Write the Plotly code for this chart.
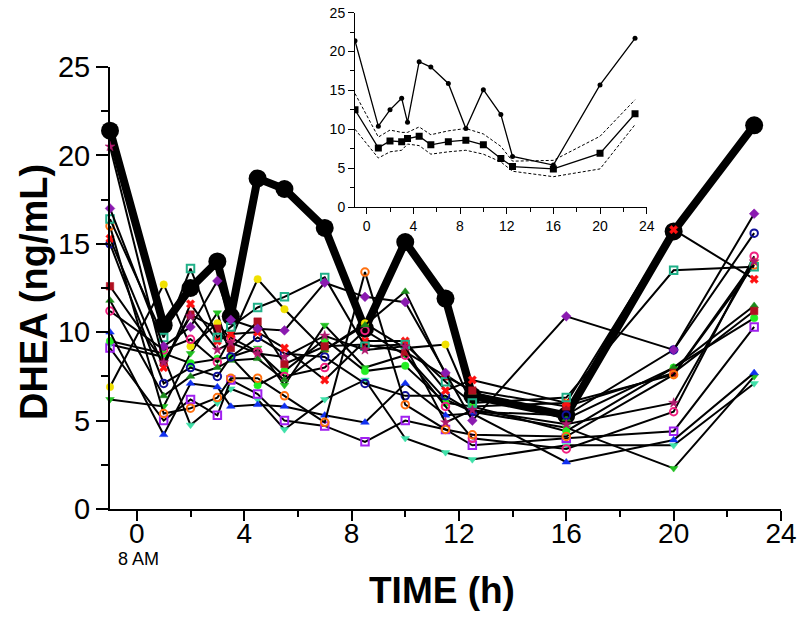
import plotly.graph_objects as go

time_h = [-1, 1, 2, 3, 3.5, 4.5, 5.5, 7, 8.5, 10, 11.5, 12.5, 16, 20, 23]

highlight = [21.4, 10.4, 12.5, 14.0, 10.9, 18.7, 18.1, 15.9, 10.2, 15.1, 11.9, 6.4, 5.3, 15.7, 21.7]

s_magenta = [20.5, 8.3, 10.9, 9.0, 9.4, 8.8, 8.6, 9.8, 9.0, 9.2, 4.9, 5.6, 4.8, 6.0, 14.0]
s_purple = [17.0, 9.2, 10.3, 12.9, 10.7, 10.2, 10.1, 12.8, 12.0, 11.7, 7.7, 5.0, 10.9, 9.0, 16.7]
s_teal = [16.4, 9.7, 13.6, 9.7, 10.3, 11.4, 12.0, 13.1, 9.2, 9.3, 7.2, 6.0, 6.3, 13.5, 13.7]
s_orange = [16.0, 5.4, 5.7, 6.3, 7.4, 7.4, 6.4, 4.9, 13.4, 5.9, 4.5, 4.2, 4.1, 7.6, 13.8]
s_red = [15.3, 8.0, 11.6, 9.5, 9.9, 10.0, 9.1, 7.3, 9.5, 9.5, 6.7, 7.3, 6.0, 15.8, 13.0]
s_navy = [15.0, 7.1, 8.0, 7.5, 8.6, 9.7, 8.8, 8.6, 7.1, 6.4, 6.4, 5.5, 5.3, 9.0, 15.6]
s_darkred = [12.6, 8.3, 11.0, 10.2, 9.1, 10.6, 8.2, 9.2, 9.3, 8.9, 7.5, 6.7, 5.8, 7.7, 11.2]
s_darkgreen = [11.8, 6.4, 7.5, 8.0, 8.4, 8.5, 7.3, 9.0, 10.4, 12.3, 7.6, 6.6, 5.1, 8.0, 11.5]
s_pink = [11.2, 9.0, 9.6, 8.3, 9.7, 8.9, 7.5, 8.0, 10.1, 8.7, 5.8, 4.0, 3.4, 5.5, 14.3]
s_blue = [10.0, 4.2, 7.1, 6.9, 5.8, 5.9, 5.8, 5.3, 4.9, 7.1, 5.3, 5.4, 2.65, 3.9, 7.7]
s_lime = [9.5, 8.8, 8.25, 8.5, 8.6, 7.0, 7.8, 9.6, 7.8, 8.1, 6.0, 5.8, 4.4, 8.0, 10.8]
s_violet = [9.1, 5.0, 6.2, 5.3, 7.3, 6.5, 5.0, 4.7, 3.8, 5.0, 4.5, 3.6, 4.0, 4.4, 10.3]
s_yellow = [6.9, 12.7, 9.2, 10.5, 9.6, 13.0, 11.3, 9.0, 10.5, 9.1, 9.3, 5.8, 6.0, 7.6, 14.0]
s_green = [6.2, 5.8, 8.8, 11.1, 8.6, 9.1, 7.0, 10.4, 8.0, 8.7, 6.2, 5.5, 4.6, 2.3, 7.5]
s_turquoise = [9.3, 8.6, 4.75, 6.0, 6.8, 6.2, 4.5, 6.2, 7.3, 4.0, 3.2, 2.8, 3.6, 3.6, 7.1]

inset_individual = [21.4, 10.4, 12.5, 14.0, 10.9, 18.7, 18.0, 15.9, 10.1, 15.1, 11.9, 6.5, 5.4, 15.7, 21.7]
inset_mean = [12.5, 7.6, 8.5, 8.4, 8.8, 9.1, 8.0, 8.4, 8.6, 8.0, 6.25, 5.2, 4.9, 6.9, 12.0]
inset_upper = [14.6, 9.0, 9.9, 9.6, 9.6, 10.3, 9.3, 9.8, 10.1, 9.4, 7.8, 5.9, 6.0, 9.1, 13.8]
inset_lower = [10.0, 6.3, 7.1, 7.3, 8.1, 7.9, 6.8, 7.1, 7.3, 6.8, 5.8, 4.6, 3.9, 4.9, 10.6]

x_ticks = [0, 4, 8, 12, 16, 20, 24]
y_ticks = [0, 5, 10, 15, 20, 25]

subjects = [
    (s_turquoise, "#3ee0a8", "triangle-down", True),
    (s_green, "#22c022", "triangle-down", True),
    (s_yellow, "#f0e000", "circle", True),
    (s_violet, "#a020f0", "square-open", False),
    (s_lime, "#22ee22", "circle", True),
    (s_blue, "#1030f0", "triangle-up", True),
    (s_pink, "#f02080", "circle-open", False),
    (s_darkgreen, "#1a8a1a", "triangle-up", True),
    (s_darkred, "#b01020", "square", True),
    (s_navy, "#10109a", "circle-open", False),
    (s_red, "#ff1010", "x", True),
    (s_orange, "#ff7010", "circle-open", False),
    (s_teal, "#20b088", "square-open", False),
    (s_purple, "#8a1ab0", "diamond", True),
    (s_magenta, "#b0186e", "star", True),
]

FONT = "Liberation Sans, Arial, sans-serif"

fig = go.Figure()

fig.add_trace(go.Scatter(
    x=time_h, y=highlight, mode="lines+markers",
    line=dict(color="black", width=8),
    marker=dict(color="black", size=18),
    xaxis="x", yaxis="y", showlegend=False, cliponaxis=False))

for vals, col, sym, filled in subjects:
    fig.add_trace(go.Scatter(
        x=time_h, y=vals, mode="lines+markers",
        line=dict(color="black", width=2),
        marker=dict(symbol=sym, size=7.5, color=col,
                    line=dict(color=col, width=2 if not filled else 0.5)),
        xaxis="x", yaxis="y", showlegend=False, cliponaxis=False))

# inset
fig.add_trace(go.Scatter(x=time_h, y=inset_upper, mode="lines",
                         line=dict(color="black", width=1, dash="3px,2px"),
                         xaxis="x2", yaxis="y2", showlegend=False))
fig.add_trace(go.Scatter(x=time_h, y=inset_lower, mode="lines",
                         line=dict(color="black", width=1, dash="3px,2px"),
                         xaxis="x2", yaxis="y2", showlegend=False))
fig.add_trace(go.Scatter(x=time_h, y=inset_mean, mode="lines+markers",
                         line=dict(color="black", width=1.3),
                         marker=dict(symbol="square", size=7, color="black"),
                         xaxis="x2", yaxis="y2", showlegend=False))
fig.add_trace(go.Scatter(x=time_h, y=inset_individual, mode="lines+markers",
                         line=dict(color="black", width=1.3),
                         marker=dict(symbol="circle", size=5, color="black"),
                         xaxis="x2", yaxis="y2", showlegend=False))

W, H = 800, 622
L, R = 110, 800 - 781
T, B = 4, 622 - 509
pw, ph = W - L - R, H - T - B

def py(px):
    return (H - B - px) / ph

def pxx(px):
    return (px - L) / pw

fig.update_layout(
    width=W, height=H,
    margin=dict(l=L, r=R, t=T, b=B, autoexpand=False),
    paper_bgcolor="white", plot_bgcolor="white",
    hovermode=False,
    xaxis=dict(domain=[0, 1], range=[-1, 24], tickvals=x_ticks, automargin=False,
               showgrid=False, zeroline=False, showline=True, linecolor="black", linewidth=2,
               ticks="outside", ticklen=10, tickwidth=2, tickcolor="black",
               ticklabelstandoff=-12,
               tickfont=dict(family=FONT, size=28, color="black"),
               minor=dict(dtick=2, tick0=0, ticks="outside", ticklen=6, tickwidth=2, tickcolor="black"),
               anchor="y"),
    yaxis=dict(domain=[0, py(67)], range=[0, 25], tickvals=y_ticks, automargin=False,
               showgrid=False, zeroline=False, showline=True, linecolor="black", linewidth=2,
               ticks="outside", ticklen=12, tickwidth=2, tickcolor="black",
               tickfont=dict(family=FONT, size=29, color="black"),
               minor=dict(dtick=2.5, tick0=0, ticks="outside", ticklen=7, tickwidth=2, tickcolor="black"),
               anchor="x"),
    xaxis2=dict(domain=[pxx(355), pxx(646.7)], range=[-1, 24], tickvals=x_ticks, automargin=False,
                showgrid=False, zeroline=False, showline=True, linecolor="black", linewidth=1,
                ticks="outside", ticklen=6, tickwidth=1, tickcolor="black",
                tickfont=dict(family=FONT, size=14, color="black"),
                minor=dict(dtick=2, tick0=0, ticks="outside", ticklen=4, tickwidth=1, tickcolor="black"),
                anchor="y2"),
    yaxis2=dict(domain=[py(207), py(12.7)], range=[0, 25], tickvals=y_ticks, automargin=False,
                showgrid=False, zeroline=False, showline=True, linecolor="black", linewidth=1,
                ticks="outside", ticklen=6, tickwidth=1, tickcolor="black",
                ticklabeloverflow="allow",
                tickfont=dict(family=FONT, size=14, color="black"),
                minor=dict(dtick=2.5, tick0=0, ticks="outside", ticklen=4, tickwidth=1, tickcolor="black"),
                anchor="x2"),
    annotations=[
        dict(text="<b>DHEA (ng/mL)</b>", textangle=-90, xref="paper", yref="paper",
             x=pxx(34), y=py(292), xanchor="center", yanchor="middle", showarrow=False,
             font=dict(family=FONT, size=38, color="black")),
        dict(text="<b>TIME (h)</b>", xref="paper", yref="paper",
             x=pxx(442), y=py(590), xanchor="center", yanchor="middle", showarrow=False,
             font=dict(family=FONT, size=37, color="black")),
        dict(text="8 AM", xref="paper", yref="paper",
             x=pxx(138), y=py(559), xanchor="center", yanchor="middle", showarrow=False,
             font=dict(family=FONT, size=18, color="black")),
    ],
)

fig.write_html("out.html", config={"displayModeBar": False, "staticPlot": True},
               post_script="document.body.style.margin='0px';")
